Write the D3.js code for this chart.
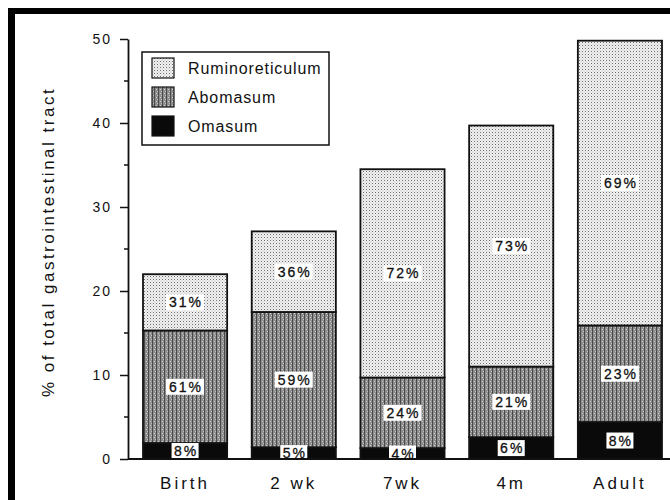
<!DOCTYPE html>
<html>
<head>
<meta charset="utf-8">
<script src="https://cdn.jsdelivr.net/npm/d3@7"></script>
<style>
  body { margin: 0; background: #fff; }
  text { font-family: "Liberation Sans", Arial, sans-serif; fill: #111; }
</style>
</head>
<body>
<script>
// stages and stacked values (% of total GI tract)
const stages = ["Birth", "2 wk", "7wk", "4m", "Adult"];
const omasum = [1.9, 1.4, 1.3, 2.6, 4.4];
const abomasum = [13.4, 16.1, 8.4, 8.4, 11.5];
const rumino = [6.7, 9.6, 24.8, 28.7, 33.9];
// share labels printed inside each segment
const omasumPct = ["8%", "5%", "4%", "6%", "8%"];
const abomasumPct = ["61%", "59%", "24%", "21%", "23%"];
const ruminoPct = ["31%", "36%", "72%", "73%", "69%"];
const yTicks = [0, 10, 20, 30, 40, 50];
const yMinor = [5, 15, 25, 35, 45];

const w = 670, h = 500;
const svg = d3.select("body").append("svg").attr("width", w).attr("height", h);

// textures for the segments
const defs = svg.append("defs");
const pr = defs.append("pattern").attr("id", "rumi").attr("patternUnits", "userSpaceOnUse")
    .attr("width", 3).attr("height", 3);
pr.append("rect").attr("width", 3).attr("height", 3).attr("fill", "#f2f2f2");
pr.append("rect").attr("width", 1).attr("height", 1).attr("fill", "#6a6a6a");
pr.append("rect").attr("x", 1.5).attr("y", 1.5).attr("width", 1).attr("height", 1).attr("fill", "#b0b0b0");

const pa = defs.append("pattern").attr("id", "abo").attr("patternUnits", "userSpaceOnUse")
    .attr("width", 4).attr("height", 4);
pa.append("rect").attr("width", 4).attr("height", 4).attr("fill", "#8c8c8c");
pa.append("rect").attr("width", 1).attr("height", 4).attr("fill", "#4a4a4a");
pa.append("rect").attr("x", 2).attr("y", 1).attr("width", 1).attr("height", 1).attr("fill", "#d0d0d0");
pa.append("rect").attr("x", 3).attr("y", 3).attr("width", 1).attr("height", 1).attr("fill", "#c4c4c4");

// frame edges of the scanned page
svg.append("rect").attr("x", 8).attr("y", 8).attr("width", w - 8).attr("height", 6).attr("fill", "#000");
svg.append("rect").attr("x", 8).attr("y", 8).attr("width", 7).attr("height", h - 8).attr("fill", "#000");

const y = d3.scaleLinear().domain([0, 50]).range([459, 39]);
const x = d3.scaleBand().domain(stages).range([143, 662]).paddingInner(0.226).paddingOuter(0);

// stack
const rows = stages.map((s, i) => ({ stage: s, omasum: omasum[i], abomasum: abomasum[i], rumino: rumino[i] }));
const keys = ["omasum", "abomasum", "rumino"];
const fills = { omasum: "#0a0a0a", abomasum: "url(#abo)", rumino: "url(#rumi)" };
const pcts = { omasum: omasumPct, abomasum: abomasumPct, rumino: ruminoPct };
const series = d3.stack().keys(keys)(rows);

const layer = svg.selectAll("g.layer").data(series).enter().append("g").attr("class", "layer");
layer.selectAll("rect")
    .data(d => d.map(v => Object.assign(v, { key: d.key })))
    .enter().append("rect")
    .attr("x", d => x(d.data.stage))
    .attr("y", d => y(d[1]))
    .attr("width", x.bandwidth())
    .attr("height", d => y(d[0]) - y(d[1]))
    .attr("fill", d => fills[d.key])
    .attr("stroke", "#111").attr("stroke-width", 1.8);

// percentage labels with white boxes
series.forEach(s => {
    s.forEach((d, i) => {
        const cx = x(d.data.stage) + x.bandwidth() / 2;
        const cy = (y(d[0]) + y(d[1])) / 2;
        const txt = pcts[s.key][i];
        const bw = txt.length * 11 + 5;
        svg.append("rect").attr("x", cx - bw / 2).attr("y", cy - 8).attr("width", bw).attr("height", 16)
            .attr("fill", "#fff");
        svg.append("text").attr("x", cx + 1).attr("y", cy + 5).attr("text-anchor", "middle")
            .attr("font-size", 14).attr("letter-spacing", 2)
            .attr("stroke", "#111").attr("stroke-width", 0.3).text(txt);
    });
});

// y axis
const yAxis = svg.append("g").attr("transform", "translate(128,0)")
    .call(d3.axisLeft(y).tickValues(yTicks).tickSize(8).tickSizeOuter(0).tickPadding(8));
yAxis.select(".domain").attr("stroke", "#111").attr("stroke-width", 1.8);
yAxis.selectAll(".tick line").attr("stroke", "#111").attr("stroke-width", 1.5);
yAxis.selectAll(".tick text").attr("font-size", 14).attr("letter-spacing", 2)
    .attr("font-family", "Liberation Sans, Arial, sans-serif").attr("fill", "#111");
yAxis.selectAll("line.minor").data(yMinor).enter().append("line").attr("class", "minor")
    .attr("x1", -4).attr("x2", 0).attr("y1", d => y(d)).attr("y2", d => y(d))
    .attr("stroke", "#111").attr("stroke-width", 1.5);

// x axis (labels only, with baseline)
const xAxis = svg.append("g").attr("transform", "translate(0,459)")
    .call(d3.axisBottom(x).tickSize(0).tickPadding(18));
xAxis.select(".domain").remove();
xAxis.selectAll(".tick text").attr("font-size", 17).attr("letter-spacing", 3)
    .attr("font-family", "Liberation Sans, Arial, sans-serif").attr("fill", "#111");
svg.append("line").attr("x1", 128).attr("x2", w).attr("y1", 459).attr("y2", 459)
    .attr("stroke", "#111").attr("stroke-width", 2);

// y label
svg.append("text").attr("transform", "translate(54,242) rotate(-90)")
    .attr("text-anchor", "middle").attr("font-size", 17).attr("letter-spacing", 2.5)
    .text("% of total gastrointestinal tract");

// legend
const legendItems = ["Ruminoreticulum", "Abomasum", "Omasum"];
const legendFills = ["url(#rumi)", "url(#abo)", "#0a0a0a"];
const lg = svg.append("g").attr("transform", "translate(142,52)");
lg.append("rect").attr("width", 187).attr("height", 93).attr("fill", "#fff")
    .attr("stroke", "#111").attr("stroke-width", 1.5);
legendItems.forEach((name, i) => {
    lg.append("rect").attr("x", 10).attr("y", 6 + i * 29).attr("width", 22).attr("height", 20)
        .attr("fill", legendFills[i]).attr("stroke", "#111").attr("stroke-width", 1.2);
    lg.append("text").attr("x", 46).attr("y", 22 + i * 29).attr("font-size", 16)
        .attr("letter-spacing", 0.9).text(name);
});
</script>
</body>
</html>
